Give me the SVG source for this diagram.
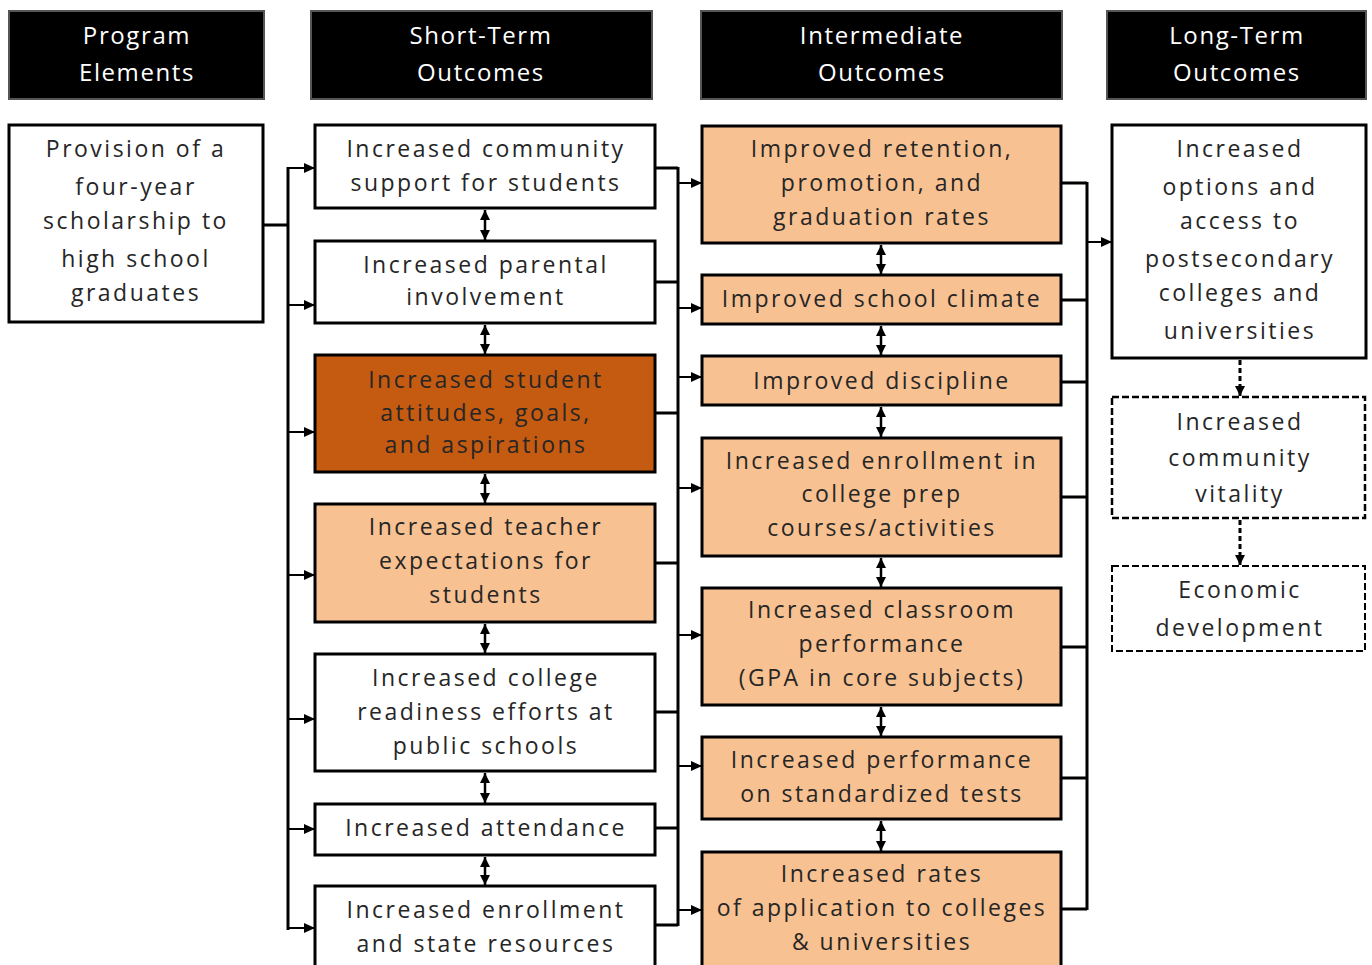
<svg xmlns="http://www.w3.org/2000/svg" width="1372" height="965" viewBox="0 0 1372 965">
<style>
.hdr{fill:#000;stroke:#555;stroke-width:2}
.ht{fill:#fff;font-family:"Open Sans","Liberation Sans",sans-serif;font-size:24px;text-anchor:middle;letter-spacing:1.6px}
.box{stroke:#000;stroke-width:3}
.w{fill:#fff}
.lo{fill:#F8C191}
.do{fill:#C55A11}
.dash{fill:#fff;stroke:#000;stroke-width:2.5;stroke-dasharray:7 3}
.t{fill:#262626;font-family:"Open Sans","Liberation Sans",sans-serif;font-size:23px;text-anchor:middle;letter-spacing:2.5px}
.c{fill:none;stroke:#000;stroke-width:3}
.a{fill:none;stroke:#000;stroke-width:2;marker-end:url(#ah)}
.v{fill:none;stroke:#000;stroke-width:2.5;marker-start:url(#av);marker-end:url(#av)}
.d{fill:none;stroke:#000;stroke-width:3;stroke-dasharray:5 3;marker-end:url(#av)}
</style>
<defs>
<marker id="ah" markerUnits="userSpaceOnUse" markerWidth="12" markerHeight="12" refX="11" refY="6" orient="auto"><path d="M0,1 L11,6 L0,11 Z" fill="#000"/></marker>
<marker id="av" markerUnits="userSpaceOnUse" markerWidth="12" markerHeight="12" refX="10" refY="6" orient="auto-start-reverse"><path d="M0,1 L10,6 L0,11 Z" fill="#000"/></marker>
</defs>
<rect width="1372" height="965" fill="#fff"/>

<g id="headers">
<g id="h1"><rect class="hdr" x="9" y="11" width="255" height="88"/><text class="ht" x="137" y="44">Program</text><text class="ht" x="137" y="81">Elements</text></g>
<g id="h2"><rect class="hdr" x="311" y="11" width="341" height="88"/><text class="ht" x="481" y="44">Short-Term</text><text class="ht" x="481" y="81">Outcomes</text></g>
<g id="h3"><rect class="hdr" x="701" y="11" width="361" height="88"/><text class="ht" x="882" y="44">Intermediate</text><text class="ht" x="882" y="81">Outcomes</text></g>
<g id="h4"><rect class="hdr" x="1107" y="11" width="259" height="88"/><text class="ht" x="1237" y="44">Long-Term</text><text class="ht" x="1237" y="81">Outcomes</text></g>
</g>

<g id="connectors">
<path class="c" d="M263,225 H288 M288,167 V930"/>
<path class="a" d="M288,168 H315"/>
<path class="a" d="M288,305 H315"/>
<path class="a" d="M288,432 H315"/>
<path class="a" d="M288,575 H315"/>
<path class="a" d="M288,719 H315"/>
<path class="a" d="M288,829 H315"/>
<path class="a" d="M288,928 H315"/>

<path class="c" d="M655,168 H678 M655,282 H678 M655,413 H678 M655,563 H678 M655,712 H678 M655,828 H678 M655,925 H678 M678,167 V926"/>
<path class="a" d="M678,183 H702"/>
<path class="a" d="M678,308 H702"/>
<path class="a" d="M678,377 H702"/>
<path class="a" d="M678,488 H702"/>
<path class="a" d="M678,635 H702"/>
<path class="a" d="M678,766 H702"/>
<path class="a" d="M678,910 H702"/>

<path class="c" d="M1061,183 H1087 M1061,300 H1087 M1061,382 H1087 M1061,497 H1087 M1061,647 H1087 M1061,778 H1087 M1061,909 H1087 M1087,182 V910"/>
<path class="a" d="M1087,242 H1112"/>

<path class="v" d="M485,210 V240"/>
<path class="v" d="M485,325 V354"/>
<path class="v" d="M485,474 V503"/>
<path class="v" d="M485,624 V653"/>
<path class="v" d="M485,773 V803"/>
<path class="v" d="M485,857 V885"/>

<path class="v" d="M881,245 V274"/>
<path class="v" d="M881,326 V355"/>
<path class="v" d="M881,407 V437"/>
<path class="v" d="M881,558 V587"/>
<path class="v" d="M881,707 V736"/>
<path class="v" d="M881,821 V851"/>

<path class="d" d="M1240,360 V396"/>
<path class="d" d="M1240,520 V565"/>
</g>

<g id="n-provision"><rect class="box w" x="9" y="125" width="254" height="197"/>
<text class="t" x="136" y="157">Provision of a</text><text class="t" x="136" y="195">four-year</text><text class="t" x="136" y="229">scholarship to</text><text class="t" x="136" y="267">high school</text><text class="t" x="136" y="301">graduates</text></g>

<g id="n-community"><rect class="box w" x="315" y="125" width="340" height="83"/>
<text class="t" x="486" y="157">Increased community</text><text class="t" x="486" y="191">support for students</text></g>
<g id="n-parental"><rect class="box w" x="315" y="241" width="340" height="82"/>
<text class="t" x="486" y="273">Increased parental</text><text class="t" x="486" y="305">involvement</text></g>
<g id="n-attitudes"><rect class="box do" x="315" y="355" width="340" height="117"/>
<text class="t" x="486" y="388">Increased student</text><text class="t" x="486" y="421">attitudes, goals,</text><text class="t" x="486" y="453">and aspirations</text></g>
<g id="n-teacher"><rect class="box lo" x="315" y="504" width="340" height="118"/>
<text class="t" x="486" y="535">Increased teacher</text><text class="t" x="486" y="569">expectations for</text><text class="t" x="486" y="603">students</text></g>
<g id="n-readiness"><rect class="box w" x="315" y="654" width="340" height="117"/>
<text class="t" x="486" y="686">Increased college</text><text class="t" x="486" y="720">readiness efforts at</text><text class="t" x="486" y="754">public schools</text></g>
<g id="n-attendance"><rect class="box w" x="315" y="804" width="340" height="51"/>
<text class="t" x="486" y="836">Increased attendance</text></g>
<g id="n-resources"><rect class="box w" x="315" y="886" width="340" height="85"/>
<text class="t" x="486" y="918">Increased enrollment</text><text class="t" x="486" y="952">and state resources</text></g>

<g id="n-retention"><rect class="box lo" x="702" y="126" width="359" height="117"/>
<text class="t" x="882" y="157">Improved retention,</text><text class="t" x="882" y="191">promotion, and</text><text class="t" x="882" y="225">graduation rates</text></g>
<g id="n-climate"><rect class="box lo" x="702" y="275" width="359" height="49"/>
<text class="t" x="882" y="307">Improved school climate</text></g>
<g id="n-discipline"><rect class="box lo" x="702" y="356" width="359" height="49"/>
<text class="t" x="882" y="389">Improved discipline</text></g>
<g id="n-prep"><rect class="box lo" x="702" y="438" width="359" height="118"/>
<text class="t" x="882" y="469">Increased enrollment in</text><text class="t" x="882" y="502">college prep</text><text class="t" x="882" y="536">courses/activities</text></g>
<g id="n-classroom"><rect class="box lo" x="702" y="588" width="359" height="117"/>
<text class="t" x="882" y="618">Increased classroom</text><text class="t" x="882" y="652">performance</text><text class="t" x="882" y="686">(GPA in core subjects)</text></g>
<g id="n-tests"><rect class="box lo" x="702" y="737" width="359" height="82"/>
<text class="t" x="882" y="768">Increased performance</text><text class="t" x="882" y="802">on standardized tests</text></g>
<g id="n-application"><rect class="box lo" x="702" y="852" width="359" height="120"/>
<text class="t" x="882" y="882">Increased rates</text><text class="t" x="882" y="916">of application to colleges</text><text class="t" x="882" y="950">&amp; universities</text></g>

<g id="n-options"><rect class="box w" x="1112" y="125" width="254" height="233"/>
<text class="t" x="1240" y="157">Increased</text><text class="t" x="1240" y="195">options and</text><text class="t" x="1240" y="229">access to</text><text class="t" x="1240" y="267">postsecondary</text><text class="t" x="1240" y="301">colleges and</text><text class="t" x="1240" y="339">universities</text></g>
<g id="n-vitality"><rect class="dash" x="1112" y="397" width="253" height="121"/>
<text class="t" x="1240" y="430">Increased</text><text class="t" x="1240" y="466">community</text><text class="t" x="1240" y="502">vitality</text></g>
<g id="n-economic"><rect class="dash" x="1112" y="566" width="253" height="85" style="stroke-width:2"/>
<text class="t" x="1240" y="598">Economic</text><text class="t" x="1240" y="636">development</text></g>
</svg>
